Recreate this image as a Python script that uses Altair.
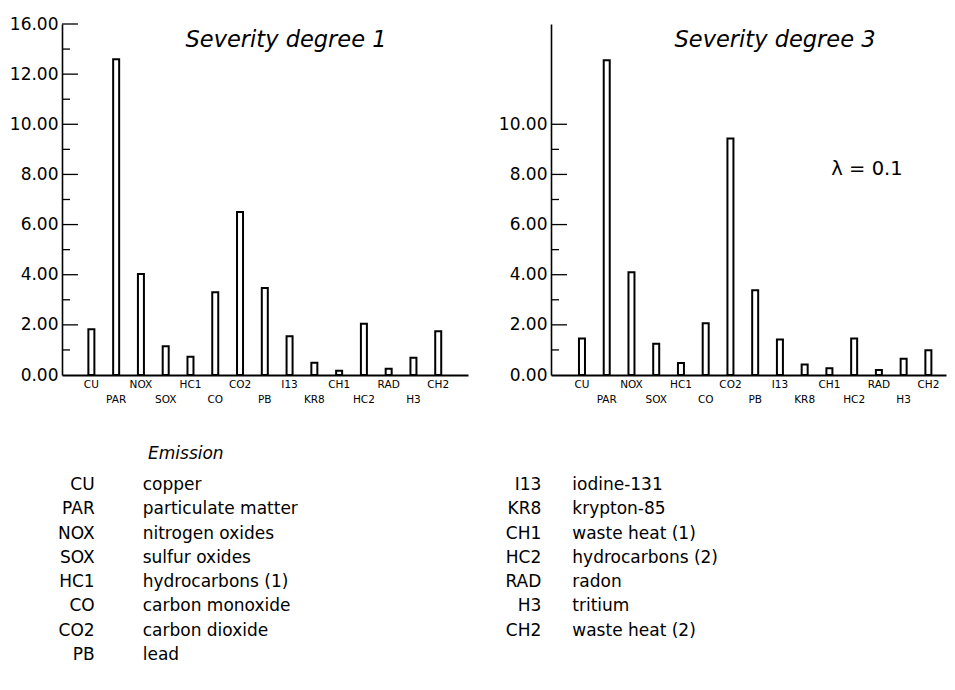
import altair as alt
import pandas as pd

# ---------------- data ----------------
codes = ["CU", "PAR", "NOX", "SOX", "HC1", "CO", "CO2", "PB",
         "I13", "KR8", "CH1", "HC2", "RAD", "H3", "CH2"]
severity1 = [1.82, 12.59, 4.03, 1.15, 0.73, 3.30, 6.50, 3.47,
             1.55, 0.49, 0.17, 2.04, 0.25, 0.69, 1.75]
severity3 = [1.46, 12.55, 4.10, 1.25, 0.48, 2.06, 9.43, 3.38,
             1.42, 0.42, 0.27, 1.46, 0.20, 0.65, 0.99]

title1 = "Severity degree 1"
title3 = "Severity degree 3"
lambda_text = "λ = 0.1"
legend_title = "Emission"

left_codes = ["CU", "PAR", "NOX", "SOX", "HC1", "CO", "CO2", "PB"]
left_names = ["copper", "particulate matter", "nitrogen oxides", "sulfur oxides",
              "hydrocarbons (1)", "carbon monoxide", "carbon dioxide", "lead"]
right_codes = ["I13", "KR8", "CH1", "HC2", "RAD", "H3", "CH2"]
right_names = ["iodine-131", "krypton-85", "waste heat (1)", "hydrocarbons (2)",
               "radon", "tritium", "waste heat (2)"]

left_tick_values = list(range(1, 15))
right_tick_values = list(range(1, 11))
left_label_values = [0, 2, 4, 6, 8, 10, 12, 14]
right_label_values = [0, 2, 4, 6, 8, 10]

# ---------------- style ----------------
FONT = "DejaVu Sans"
H = 351
Y_DOMAIN = [0, 14]


def panel(values, title, width, xdom, tick_vals, label_vals, label_expr,
          leg_codes, leg_names, code_x, name_x, extra=None):
    bdf = pd.DataFrame({"idx": list(range(len(codes))), "code": codes, "value": values})
    tdf = pd.DataFrame({"t": tick_vals})
    xs = alt.Scale(domain=xdom, nice=False, zero=False)
    ys = alt.Scale(domain=Y_DOMAIN, nice=False)

    bars = alt.Chart(bdf).mark_bar(width=6, fill="white", stroke="black",
                                   strokeWidth=2).encode(
        x=alt.X("idx:Q", scale=xs,
                axis=alt.Axis(labels=False, ticks=False, grid=False, title=None,
                              domainColor="black", domainWidth=1.8)),
        y=alt.Y("value:Q", scale=ys,
                axis=alt.Axis(values=label_vals, labelExpr=label_expr, ticks=False,
                              grid=False, title=None, labelFont=FONT, labelFontSize=17,
                              labelColor="black", labelPadding=4,
                              domainColor="black", domainWidth=1.6)),
    )
    major = alt.Chart(tdf).transform_filter("datum.t % 2 == 0").mark_rule(
        color="black", strokeWidth=1.3).encode(
        y=alt.Y("t:Q", scale=ys), x=alt.value(0), x2=alt.value(16))
    minor = alt.Chart(tdf).transform_filter("datum.t % 2 == 1").mark_rule(
        color="black", strokeWidth=1.3).encode(
        y=alt.Y("t:Q", scale=ys), x=alt.value(0), x2=alt.value(8))
    lab_even = alt.Chart(bdf).transform_filter("datum.idx % 2 == 0").mark_text(
        font=FONT, fontSize=10.5, color="black", baseline="middle").encode(
        x=alt.X("idx:Q", scale=xs), text="code:N", y=alt.value(H + 10))
    lab_odd = alt.Chart(bdf).transform_filter("datum.idx % 2 == 1").mark_text(
        font=FONT, fontSize=10.5, color="black", baseline="middle").encode(
        x=alt.X("idx:Q", scale=xs), text="code:N", y=alt.value(H + 25))
    ttl = alt.Chart(pd.DataFrame({"t": [title]})).mark_text(
        font=FONT, fontSize=22.5, fontStyle="italic", color="black",
        baseline="middle").encode(text="t:N", x=alt.value(224), y=alt.value(16))

    inner_layers = [bars, major, minor, lab_even, lab_odd, ttl]
    if extra is not None:
        inner_layers.append(extra)
    inner = alt.layer(*inner_layers)

    ldf = pd.DataFrame({"row": list(range(len(leg_codes))), "code": leg_codes,
                        "name": leg_names})
    rs = alt.Scale(domain=[0, 7], range=[461, 631], nice=False, zero=False)
    lcode = alt.Chart(ldf).mark_text(font=FONT, fontSize=17, color="black",
                                     align="right", baseline="middle").encode(
        text="code:N", x=alt.value(code_x), y=alt.Y("row:Q", scale=rs, axis=None))
    lname = alt.Chart(ldf).mark_text(font=FONT, fontSize=17, color="black",
                                     align="left", baseline="middle").encode(
        text="name:N", x=alt.value(name_x), y=alt.Y("row:Q", scale=rs, axis=None))
    return alt.layer(inner, lcode, lname).resolve_scale(y="independent").properties(
        width=width, height=H)


emission = alt.Chart(pd.DataFrame({"t": [legend_title]})).mark_text(
    font=FONT, fontSize=17, fontStyle="italic", color="black", align="left",
    baseline="middle").encode(text="t:N", x=alt.value(86), y=alt.value(430))

lam = alt.Chart(pd.DataFrame({"t": [lambda_text]})).mark_text(
    font=FONT, fontSize=19.5, color="black", baseline="middle").encode(
    text="t:N", x=alt.value(316), y=alt.value(145))

left_expr = "datum.value == 14 ? '16.00' : format(datum.value, '.2f')"
right_expr = "format(datum.value, '.2f')"

left = panel(severity1, title1, 406, [-0.984, 15.0], left_tick_values,
             left_label_values, left_expr, left_codes, left_names, 32.7, 80.7,
             extra=emission)
right = panel(severity3, title3, 395, [-1.05, 14.51], right_tick_values,
              right_label_values, right_expr, right_codes, right_names, -9.7, 21.3,
              extra=lam)

chart = alt.hconcat(left, right, spacing=83, bounds="flush").properties(
    padding={"left": 0, "top": 6, "right": 0, "bottom": 4}
).configure_view(stroke="transparent")

chart.save("out.html", embed_options={"renderer": "svg", "actions": False})
